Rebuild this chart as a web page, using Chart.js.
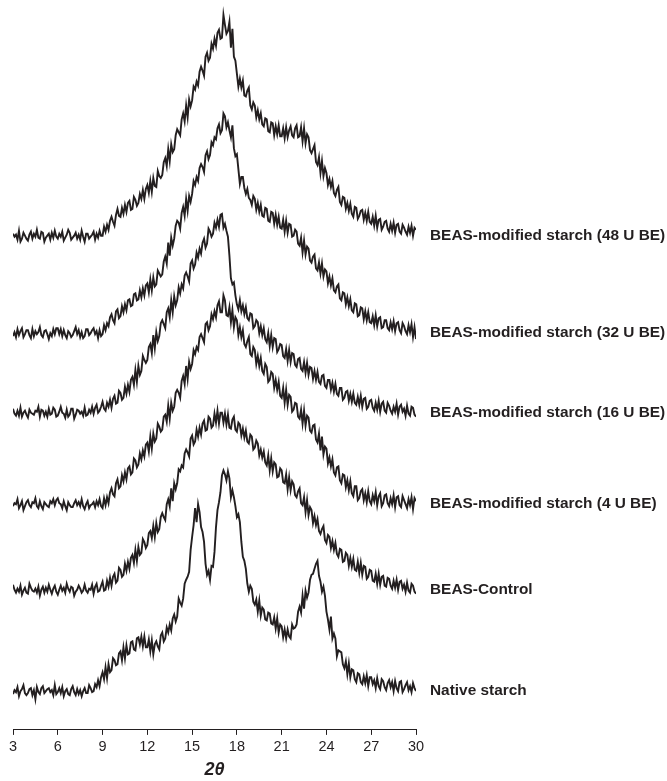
<!DOCTYPE html>
<html>
<head>
<meta charset="utf-8">
<script src="https://cdn.jsdelivr.net/npm/chart.js"></script>
<style>
  html, body { margin: 0; padding: 0; background: #fff; }
  #wrap { width: 667px; height: 781px; }
</style>
</head>
<body>
<div id="wrap"><canvas id="grafico-xrd" width="667" height="781"></canvas></div>
<script>
// 2θ grid (degrees), one row per degree
const twoTheta = [
  3,3.1,3.2,3.3,3.4,3.5,3.6,3.7,3.8,3.9,
  4,4.1,4.2,4.3,4.4,4.5,4.6,4.7,4.8,4.9,
  5,5.1,5.2,5.3,5.4,5.5,5.6,5.7,5.8,5.9,
  6,6.1,6.2,6.3,6.4,6.5,6.6,6.7,6.8,6.9,
  7,7.1,7.2,7.3,7.4,7.5,7.6,7.7,7.8,7.9,
  8,8.1,8.2,8.3,8.4,8.5,8.6,8.7,8.8,8.9,
  9,9.1,9.2,9.3,9.4,9.5,9.6,9.7,9.8,9.9,
  10,10.1,10.2,10.3,10.4,10.5,10.6,10.7,10.8,10.9,
  11,11.1,11.2,11.3,11.4,11.5,11.6,11.7,11.8,11.9,
  12,12.1,12.2,12.3,12.4,12.5,12.6,12.7,12.8,12.9,
  13,13.1,13.2,13.3,13.4,13.5,13.6,13.7,13.8,13.9,
  14,14.1,14.2,14.3,14.4,14.5,14.6,14.7,14.8,14.9,
  15,15.1,15.2,15.3,15.4,15.5,15.6,15.7,15.8,15.9,
  16,16.1,16.2,16.3,16.4,16.5,16.6,16.7,16.8,16.9,
  17,17.1,17.2,17.3,17.4,17.5,17.6,17.7,17.8,17.9,
  18,18.1,18.2,18.3,18.4,18.5,18.6,18.7,18.8,18.9,
  19,19.1,19.2,19.3,19.4,19.5,19.6,19.7,19.8,19.9,
  20,20.1,20.2,20.3,20.4,20.5,20.6,20.7,20.8,20.9,
  21,21.1,21.2,21.3,21.4,21.5,21.6,21.7,21.8,21.9,
  22,22.1,22.2,22.3,22.4,22.5,22.6,22.7,22.8,22.9,
  23,23.1,23.2,23.3,23.4,23.5,23.6,23.7,23.8,23.9,
  24,24.1,24.2,24.3,24.4,24.5,24.6,24.7,24.8,24.9,
  25,25.1,25.2,25.3,25.4,25.5,25.6,25.7,25.8,25.9,
  26,26.1,26.2,26.3,26.4,26.5,26.6,26.7,26.8,26.9,
  27,27.1,27.2,27.3,27.4,27.5,27.6,27.7,27.8,27.9,
  28,28.1,28.2,28.3,28.4,28.5,28.6,28.7,28.8,28.9,
  29,29.1,29.2,29.3,29.4,29.5,29.6,29.7,29.8,29.9,
  30
];

const xTicks = [3, 6, 9, 12, 15, 18, 21, 24, 27, 30];

const nomes = [
  "BEAS-modified starch (48 U BE)",
  "BEAS-modified starch (32 U BE)",
  "BEAS-modified starch (16 U BE)",
  "BEAS-modified starch (4 U BE)",
  "BEAS-Control",
  "Native starch"
];

// vertical stacking offset of each pattern (a.u.)
const deslocamentos = [497, 399, 319, 227, 141, 39];

// intensities above each baseline (a.u.)
const s48 = [
  2,-1,1,-4,5,-6,-3,3,0,-3,
  -5,1,4,-3,2,-1,6,-2,-3,4,
  3,-6,-2,0,2,-4,3,-2,5,-1,
  -3,2,-1,4,-5,-2,1,6,3,-4,
  -2,0,3,-3,1,-4,5,-1,-6,2,
  2,-3,-1,1,4,-4,2,-2,5,0,
  0,9,4,11,6,15,19,14,10,21,
  27,20,19,28,22,31,24,33,35,26,
  27,39,36,30,33,42,37,46,37,47,
  51,43,55,44,58,50,49,65,60,58,
  61,74,78,70,87,75,92,84,87,101,
  107,104,101,117,123,115,131,119,137,130,
  136,150,147,155,151,165,170,166,161,180,
  184,176,179,193,188,198,191,204,207,198,
  199,222,212,203,206,215,189,208,180,176,
  163,150,158,149,156,141,140,146,149,131,
  127,134,131,119,126,117,123,112,110,118,
  117,105,104,114,113,101,110,102,111,100,
  100,108,98,109,99,106,110,101,99,108,
  111,99,100,109,95,108,93,102,99,86,
  83,87,91,74,71,79,63,75,60,68,
  63,51,57,49,55,43,40,46,49,34,
  31,39,38,27,33,25,32,22,19,29,
  28,17,20,25,26,16,23,15,24,14,
  12,19,10,20,8,16,17,6,9,14,
  15,7,4,12,5,13,3,11,12,4,
  2,11,8,4,1,9,3,10,0,8,
  6
];
const s32 = [
  -3,1,-4,4,-2,2,5,-4,-1,3,
  3,-2,-5,4,-3,2,-1,1,6,-2,
  -4,2,3,-1,-6,0,-3,4,-1,5,
  5,-1,4,-3,3,-2,-5,2,0,-4,
  -2,2,6,-1,3,-4,1,-5,-3,4,
  4,-2,0,3,5,-1,2,-5,3,-3,
  -1,8,3,10,7,16,19,13,10,22,
  24,15,17,27,21,29,23,33,34,27,
  28,39,40,33,34,43,36,45,38,48,
  50,41,54,43,56,47,49,63,60,57,
  59,72,77,70,91,78,96,88,95,108,
  113,111,105,121,127,118,135,123,138,132,
  140,153,149,157,153,166,170,167,162,179,
  183,175,179,192,189,197,195,206,210,201,
  204,221,218,207,212,204,197,209,186,178,
  180,165,150,157,157,146,140,145,136,134,
  129,138,135,124,131,122,129,118,117,126,
  125,113,112,122,121,110,119,109,117,106,
  105,114,102,113,101,110,109,97,98,104,
  102,90,88,96,81,93,79,87,85,73,
  71,77,79,65,63,71,60,70,57,64,
  62,50,57,48,55,43,41,47,49,35,
  33,41,40,29,36,27,34,23,21,30,
  29,17,18,26,25,14,22,13,21,11,
  10,17,8,18,7,15,16,5,6,13,
  13,5,3,11,4,12,2,10,11,3,
  0,10,7,2,-1,8,1,9,-4,6,
  -6
];
const s16 = [
  4,-1,-3,2,-3,5,-4,0,2,-2,
  -5,3,0,-1,-2,2,1,6,-4,3,
  2,-3,1,-4,4,-2,-1,5,3,-4,
  -3,1,6,0,-1,-5,3,-4,-2,4,
  4,-6,-2,3,2,-1,1,-3,5,-3,
  -2,3,0,6,-1,5,8,0,2,6,
  11,4,2,10,6,13,5,14,17,9,
  10,22,20,13,15,26,19,28,21,33,
  36,28,43,31,47,38,42,57,53,50,
  53,66,69,60,78,65,81,72,77,90,
  93,89,85,101,105,96,113,101,117,108,
  113,126,120,129,125,138,141,137,132,150,
  153,145,149,161,156,165,160,171,175,166,
  170,185,182,177,180,191,186,194,187,199,
  200,186,190,183,177,158,135,129,131,118,
  109,104,113,102,108,99,106,95,93,100,
  99,85,87,93,91,80,87,78,85,74,
  71,80,67,78,66,75,74,61,64,69,
  68,57,55,64,52,63,51,60,59,48,
  46,54,55,44,42,51,40,50,38,46,
  45,34,42,33,41,31,29,37,38,27,
  25,33,33,23,30,21,29,19,17,25,
  25,13,15,21,22,12,19,11,19,10,
  8,16,8,17,6,14,15,4,6,12,
  13,5,2,10,3,12,1,9,11,2,
  0,10,7,2,-1,6,1,9,-2,6,
  8,1,4,-3,7,-1,-3,6,5,-2,
  -4
];
const s4 = [
  -2,1,0,5,-4,-1,3,-6,-2,2,
  4,-1,-3,2,1,6,-2,-4,3,-2,
  -5,2,0,-2,-3,3,1,5,-1,4,
  6,1,0,-4,3,-2,-6,2,-1,-3,
  -3,1,4,-1,2,-2,5,-2,-5,0,
  3,-4,-1,0,2,-3,3,-1,5,-2,
  -4,6,-1,7,1,12,16,10,8,21,
  25,16,18,29,23,32,25,36,38,30,
  32,46,44,37,40,51,45,54,48,60,
  62,53,68,56,71,63,66,81,78,73,
  75,88,90,83,99,86,102,94,98,112,
  115,112,107,124,129,121,139,126,143,136,
  141,155,151,158,155,168,171,167,163,181,
  183,175,179,191,186,194,188,200,204,193,
  193,210,205,190,189,198,183,195,178,188,
  185,170,178,168,175,161,158,164,168,151,
  149,158,155,141,149,139,147,134,131,141,
  138,123,125,133,131,117,125,115,123,109,
  107,117,102,115,100,110,108,93,95,102,
  101,88,86,95,81,94,79,89,87,74,
  72,79,80,65,62,71,54,68,50,58,
  56,41,47,38,45,32,29,37,38,24,
  21,30,29,17,24,14,23,11,8,18,
  18,4,6,13,15,4,11,2,13,3,
  0,9,3,12,-1,8,11,-2,1,9,
  10,1,-2,6,0,9,-3,7,8,-1,
  -3,8,4,0,-4,5,-1,7,-5,6,
  3
];
const sControl = [
  5,0,-3,1,-2,4,-5,-1,2,-3,
  -4,6,2,-1,-2,1,-3,3,-6,0,
  3,-3,2,-2,5,0,-4,1,4,-2,
  -5,0,4,-1,2,-3,6,1,-2,3,
  2,-6,-2,0,4,1,-3,-1,5,-1,
  -3,1,0,5,-4,3,6,-2,-1,4,
  8,-1,0,9,3,12,4,13,16,7,
  9,22,20,13,15,26,19,28,21,32,
  35,27,40,29,43,35,37,51,48,42,
  45,57,59,52,64,53,67,58,61,73,
  77,73,70,86,91,84,102,89,107,101,
  107,121,119,125,123,137,141,138,134,152,
  155,146,149,161,154,163,156,167,170,160,
  161,174,172,163,165,177,168,180,167,178,
  178,168,177,166,176,163,162,171,174,161,
  159,168,166,155,162,153,160,149,147,156,
  154,141,143,150,147,135,141,133,139,128,
  125,135,120,132,119,128,126,113,114,122,
  120,108,107,116,101,113,100,109,106,95,
  93,99,102,87,85,93,78,90,75,83,
  80,67,74,65,71,59,56,61,64,50,
  47,55,53,42,49,40,47,36,33,41,
  40,28,29,37,35,24,32,23,31,20,
  19,28,17,27,15,24,23,11,13,20,
  19,9,8,16,6,16,5,13,14,4,
  3,12,11,4,1,9,2,10,0,8,
  9,1,5,-2,7,-1,-3,6,4,-2,
  -4
];
const sNative = [
  -3,1,-1,4,-5,0,2,6,-2,-4,
  -2,2,3,-4,1,-8,4,-1,-3,3,
  5,-2,0,2,3,-1,1,-4,6,-3,
  -1,3,-2,4,-5,0,2,-3,-4,2,
  5,-1,-4,2,-3,1,-5,0,3,-2,
  -2,6,3,-1,0,7,4,11,5,14,
  19,12,24,13,27,19,21,33,31,26,
  27,38,40,31,44,33,46,37,38,49,
  50,42,41,53,54,47,55,45,55,44,
  44,52,40,51,37,47,50,45,42,56,
  59,50,53,64,59,67,61,73,77,70,
  75,93,89,86,93,108,112,115,120,142,
  155,167,184,170,188,180,165,160,150,128,
  117,121,112,126,125,140,165,182,190,200,
  217,222,218,212,221,214,195,202,195,186,
  175,178,170,150,135,131,123,108,100,106,
  103,90,87,92,80,91,76,84,82,72,
  71,79,78,68,67,74,63,73,59,67,
  65,54,62,53,62,55,53,67,63,64,
  67,80,85,79,96,83,101,94,99,112,
  117,118,123,128,131,116,110,100,105,96,
  80,72,62,75,53,58,53,35,41,40,
  39,27,23,30,17,28,14,22,21,12,
  9,18,17,9,7,15,8,16,5,14,
  14,7,11,3,13,5,2,12,10,4,
  1,8,11,4,9,0,10,3,0,9,
  10,-1,2,6,9,1,5,-1,8,3,
  0
];

const series = [s48, s32, s16, s4, sControl, sNative];
const corTraco = '#231f20';

// sample names written at the right end of each pattern
const rotulos = {
  id: 'rotulos',
  afterDatasetsDraw(chart) {
    const { ctx, chartArea, scales } = chart;
    ctx.save();
    ctx.font = 'bold 15.4px "Liberation Sans", Arial, sans-serif';
    ctx.fillStyle = corTraco;
    ctx.textBaseline = 'middle';
    ctx.textAlign = 'left';
    nomes.forEach((nome, i) => {
      const y = scales.y.getPixelForValue(deslocamentos[i]);
      ctx.fillText(nome, chartArea.right + 14, y);
    });
    ctx.restore();
  }
};

document.addEventListener("DOMContentLoaded", function () {
  const ctx = document.getElementById("grafico-xrd").getContext("2d");

  const datasets = series.map((valores, i) => ({
    label: nomes[i],
    data: valores.map((v, k) => ({ x: twoTheta[k], y: deslocamentos[i] + v })),
    borderColor: corTraco,
    borderWidth: 1.9,
    pointRadius: 0,
    tension: 0,
    fill: false
  }));

  new Chart(ctx, {
    type: 'line',
    data: { datasets },
    options: {
      responsive: false,
      animation: false,
      devicePixelRatio: 1,
      layout: { padding: { left: 13, right: 251, top: 4, bottom: 0 } },
      plugins: {
        legend: { display: false },
        tooltip: { enabled: false }
      },
      scales: {
        x: {
          type: 'linear',
          min: 3,
          max: 30,
          afterBuildTicks: axis => { axis.ticks = xTicks.map(v => ({ value: v })); },
          grid: { drawOnChartArea: false, drawTicks: true, tickLength: 5, color: corTraco },
          border: { display: true, color: corTraco, width: 1 },
          ticks: {
            color: corTraco,
            padding: 5,
            maxRotation: 0,
            font: { family: '"Liberation Sans", Arial, sans-serif', size: 14.5, lineHeight: 1 }
          },
          title: {
            display: true,
            text: '2θ',
            color: corTraco,
            padding: { top: 0, bottom: 0 },
            font: { family: '"Liberation Sans", Arial, sans-serif', size: 18, style: 'italic', weight: 'bold' }
          }
        },
        y: {
          display: false,
          min: 0,
          max: 730
        }
      }
    },
    plugins: [rotulos]
  });
});
</script>
</body>
</html>
